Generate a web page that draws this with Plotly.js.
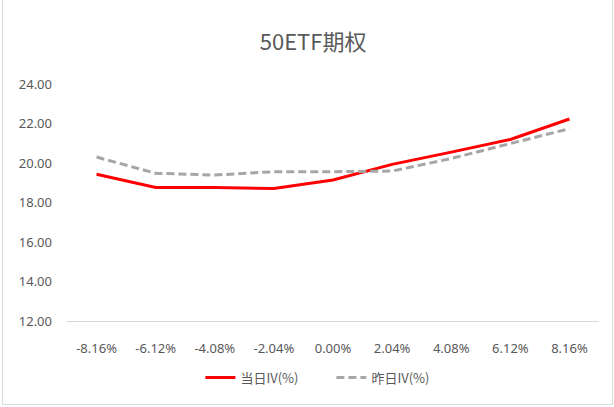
<!DOCTYPE html>
<html>
<head>
<meta charset="utf-8">
<script src="https://cdn.plot.ly/plotly-3.0.1.min.js"></script>
<style>
html,body{margin:0;padding:0;background:#fff;}
#wrap{position:absolute;left:2px;top:0;width:611px;height:405px;border-left:1px solid #d9d9d9;border-bottom:1px solid #d9d9d9;border-right:1px solid #d9d9d9;box-sizing:border-box;}
#chart{width:608px;height:404px;}
</style>
</head>
<body>
<div id="wrap"><div id="chart"></div></div>
<script>
const categories = ["-8.16%","-6.12%","-4.08%","-2.04%","0.00%","2.04%","4.08%","6.12%","8.16%"];
const todayIV = [19.43, 18.76, 18.76, 18.71, 19.14, 19.93, 20.55, 21.19, 22.23];
const yesterdayIV = [20.30, 19.48, 19.39, 19.56, 19.56, 19.59, 20.23, 20.97, 21.74];
const yTicks = [12,14,16,18,20,22,24];
const yTickText = yTicks.map(v => v.toFixed(2));

const fontFam = '"Noto Sans", "Noto Sans CJK SC", sans-serif';
const traces = [
  {x: categories, y: todayIV, name: '当日IV(%)', type: 'scatter', mode: 'lines',
   line: {color: '#ff0000', width: 3}},
  {x: categories, y: yesterdayIV, name: '昨日IV(%)', type: 'scatter', mode: 'lines',
   line: {color: '#a6a6a6', width: 3, dash: '8px,4px'}}
];
const layout = {
  width: 608, height: 404,
  margin: {l: 64, r: 12, t: 84, b: 81},
  paper_bgcolor: '#fff', plot_bgcolor: '#fff',
  font: {family: fontFam, color: '#595959', size: 13},
  title: {text: '50ETF期权', x: 0.51, xanchor: 'center', y: 0.895, yanchor: 'middle',
          font: {family: '"Noto Sans CJK SC", "Noto Sans", sans-serif', size: 22, color: '#595959'}},
  xaxis: {type: 'category', range: [-0.5, categories.length - 0.5], showgrid: false, zeroline: false, showline: true,
          linecolor: '#d9d9d9', linewidth: 1, ticks: '', ticklabelstandoff: 15,
          tickfont: {size: 13, color: '#595959'}, fixedrange: true},
  yaxis: {range: [12, 24], tickvals: yTicks, ticktext: yTickText, showgrid: false,
          zeroline: false, showline: false, ticks: '', ticklabelstandoff: 14,
          tickfont: {size: 13, color: '#595959'}, fixedrange: true},
  showlegend: true,
  legend: {orientation: 'h', x: 0.497, xanchor: 'center', y: -0.175, yanchor: 'top',
           font: {family: '"Noto Sans CJK SC", sans-serif', size: 13, color: '#595959'},
           entrywidth: 86, entrywidthmode: 'pixels', tracegroupgap: 0}
};
Plotly.newPlot('chart', traces, layout, {displayModeBar: false, staticPlot: true});
</script>
</body>
</html>
